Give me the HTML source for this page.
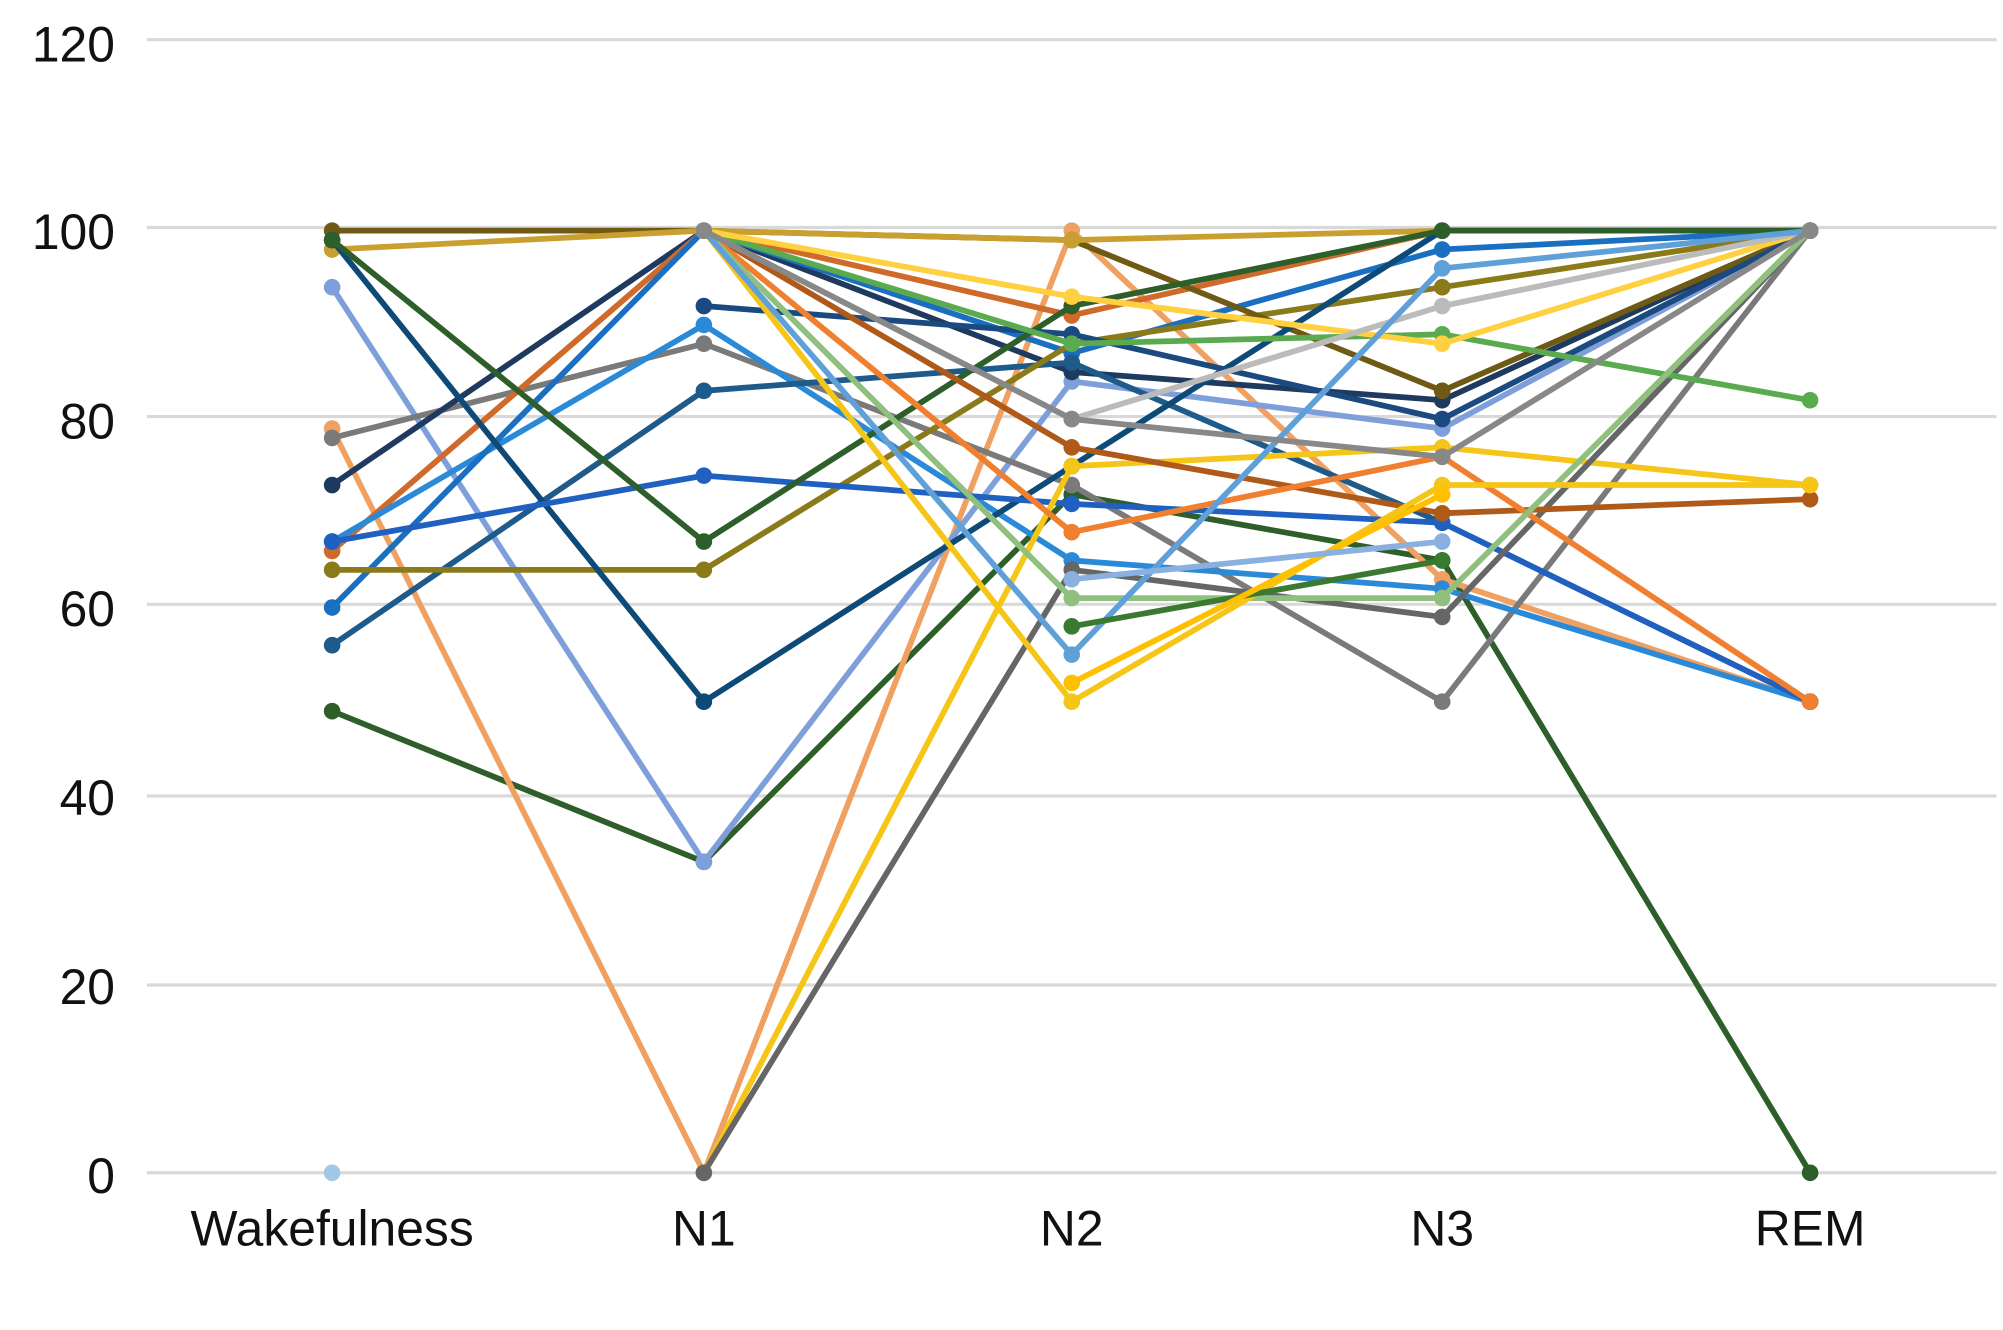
<!DOCTYPE html>
<html><head><meta charset="utf-8"><style>
html,body{margin:0;padding:0;background:#fff;}
svg{display:block;}
text{font-family:"Liberation Sans",sans-serif;font-size:39px;fill:#111;}
</style></head><body>
<svg width="2003" height="1330" viewBox="0 0 1568 1041" xmlns="http://www.w3.org/2000/svg">
<g stroke="#d9d9d9" stroke-width="2.5">
<line x1="115" x2="1563" y1="31" y2="31"/><line x1="115" x2="1563" y1="178" y2="178"/>
<line x1="115" x2="1563" y1="326" y2="326"/><line x1="115" x2="1563" y1="473" y2="473"/>
<line x1="115" x2="1563" y1="623" y2="623"/><line x1="115" x2="1563" y1="771" y2="771"/>
<line x1="115" x2="1563" y1="918" y2="918"/>
</g>
<g text-anchor="end">
<text x="90" y="48">120</text><text x="90" y="195">100</text><text x="90" y="343">80</text>
<text x="90" y="490">60</text><text x="90" y="638">40</text><text x="90" y="786">20</text><text x="90" y="934">0</text>
</g>
<g text-anchor="middle">
<text x="260" y="975">Wakefulness</text><text x="551" y="975">N1</text><text x="839" y="975">N2</text>
<text x="1129" y="975">N3</text><text x="1417" y="975">REM</text>
</g>
<g id="s" fill="none" stroke-width="4.5"></g>
<script>
var X=[260,551,839,1129,1417];
function Y(v){return 918-v*7.375;}
var S=[
["#2e5e2a",[49,33,72,65,0]],
["#f0a060",[79,0,100,63,50]],
["#7f9fdb",[94,33,84,79,100]],
["#7a7a7a",[78,88,73,50,100]],
["#1f3a5f",[73,100,85,82,100]],
["#d06a2a",[66,100,91,100,100]],
["#2a8ad8",[67,90,65,62,50]],
["#1a6fc0",[60,100,87,98,100]],
["#1e5a8a",[56,83,86,69,50]],
["#8a7a1a",[64,64,88,94,100]],
["#6e5a14",[100,100,99,83,100]],
["#c9a030",[98,100,99,100,100]],
["#0e4a78",[99,50,75,100,100]],
["#2060c0",[67,74,71,69,50]],
["#2e5e2a",[99,67,92,100,100]],
["#1a4a80",[null,92,89,80,100]],
["#f5c518",[null,0,75,77,73]],
["#666666",[null,0,64,59,100]],
["#5aaa50",[null,100,88,89,82]],
["#b05a1a",[null,100,77,70,71.5]],
["#f08030",[null,100,68,76,50]],
["#ffd040",[null,100,93,88,100]],
["#bbbbbb",[null,100,80,92,100]],
["#90c080",[null,100,61,61,100]],
["#f5c518",[null,100,50,73,73]],
["#60a0d8",[null,100,55,96,100]],
["#888888",[null,100,80,76,100]],
["#a0c8e8",[0,null,null,null,null]],
["#3a7a30",[null,null,58,65,null]],
["#ffc000",[null,null,52,72,null]],
["#8ab0e0",[null,null,63,67,null]]
];
var g=document.getElementById('s'),ns="http://www.w3.org/2000/svg";
S.forEach(function(s){var pts=[];s[1].forEach(function(v,i){if(v!==null)pts.push([X[i],Y(v)]);});
 if(pts.length>1){var p=document.createElementNS(ns,'polyline');p.setAttribute('points',pts.map(function(q){return q.join(',')}).join(' '));p.setAttribute('stroke',s[0]);g.appendChild(p);}
 pts.forEach(function(q){var c=document.createElementNS(ns,'circle');c.setAttribute('cx',q[0]);c.setAttribute('cy',q[1]);c.setAttribute('r',6.5);c.setAttribute('fill',s[0]);c.setAttribute('stroke','none');g.appendChild(c);});
});
</script>
</svg>
</body></html>
